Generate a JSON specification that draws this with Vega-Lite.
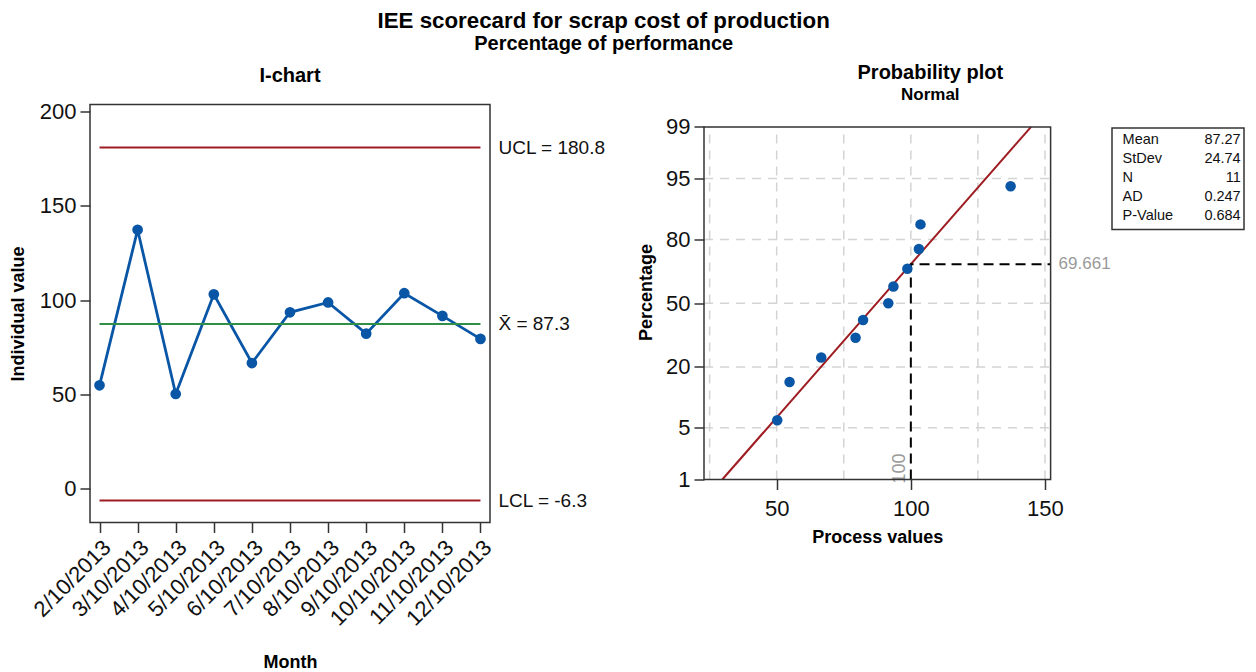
{
  "$schema": "https://vega.github.io/schema/vega-lite/v6.json",
  "padding": {"left": 8, "top": 9.5, "right": 4, "bottom": 0},
  "background": "white",
  "title": {
    "text": "IEE scorecard for scrap cost of production",
    "subtitle": "Percentage of performance",
    "anchor": "middle",
    "frame": "bounds",
    "dx": -23,
    "font": "Liberation Sans",
    "fontSize": 22.3,
    "fontWeight": "bold",
    "color": "black",
    "subtitleFont": "Liberation Sans",
    "subtitleFontSize": 20,
    "subtitleFontWeight": "bold",
    "subtitleColor": "black",
    "subtitlePadding": 2,
    "offset": 8.3
  },
  "config": {
    "font": "Liberation Sans",
    "view": {"stroke": "#333333", "strokeWidth": 1.5},
    "axis": {
      "labelFont": "Liberation Sans",
      "labelFontSize": 22,
      "labelColor": "#111111",
      "titleFont": "Liberation Sans",
      "titleFontSize": 18,
      "titleFontWeight": "bold",
      "titleColor": "black",
      "tickColor": "#333333",
      "tickSize": 10,
      "tickWidth": 1.5,
      "domain": false,
      "grid": false,
      "labelPadding": 4
    },
    "title": {
      "font": "Liberation Sans",
      "fontSize": 20,
      "fontWeight": "bold",
      "color": "black",
      "anchor": "middle",
      "subtitleFont": "Liberation Sans",
      "subtitleFontSize": 17,
      "subtitleFontWeight": "bold",
      "subtitleColor": "black"
    }
  },
  "datasets": {
    "ichart": [
      {"month": "2/10/2013", "value": 54.8},
      {"month": "3/10/2013", "value": 137.2},
      {"month": "4/10/2013", "value": 50.2},
      {"month": "5/10/2013", "value": 103.0},
      {"month": "6/10/2013", "value": 66.6},
      {"month": "7/10/2013", "value": 93.5},
      {"month": "8/10/2013", "value": 98.7},
      {"month": "9/10/2013", "value": 82.2},
      {"month": "10/10/2013", "value": 103.6},
      {"month": "11/10/2013", "value": 91.6},
      {"month": "12/10/2013", "value": 79.4}
    ],
    "limits": [
      {"limit": "UCL", "value": 180.8, "month": "2/10/2013", "monthEnd": "12/10/2013", "label": "UCL = 180.8"},
      {"limit": "Mean", "value": 87.3, "month": "2/10/2013", "monthEnd": "12/10/2013", "label": "X̄ = 87.3"},
      {"limit": "LCL", "value": -6.3, "month": "2/10/2013", "monthEnd": "12/10/2013", "label": "LCL = -6.3"}
    ],
    "prob": [
      {"value": 50.2, "pct": 6.14, "score": -1.544},
      {"value": 54.8, "pct": 14.91, "score": -1.04},
      {"value": 66.6, "pct": 23.68, "score": -0.716},
      {"value": 79.4, "pct": 32.46, "score": -0.455},
      {"value": 82.2, "pct": 41.23, "score": -0.221},
      {"value": 91.6, "pct": 50.0, "score": 0},
      {"value": 93.5, "pct": 58.77, "score": 0.221},
      {"value": 98.7, "pct": 67.54, "score": 0.455},
      {"value": 103.0, "pct": 76.32, "score": 0.716},
      {"value": 103.6, "pct": 85.09, "score": 1.04},
      {"value": 137.2, "pct": 93.86, "score": 1.544}
    ],
    "fit": [
      {"value": 29.72, "pct": 1, "score": -2.3263},
      {"value": 144.82, "pct": 99, "score": 2.3263}
    ],
    "ref": [
      {"step": 1, "value": 100, "score": -2.3263},
      {"step": 2, "value": 100, "score": 0.5145},
      {"step": 3, "value": 152.1, "score": 0.5145}
    ],
    "reflabelX": [
      {"value": 100, "score": -2.3263, "text": "100"}
    ],
    "reflabelY": [
      {"value": 152.1, "score": 0.5145, "text": "69.661"}
    ],
    "gridX": [
      {"value": 25, "score": -2.3263, "score2": 2.3263},
      {"value": 50, "score": -2.3263, "score2": 2.3263},
      {"value": 75, "score": -2.3263, "score2": 2.3263},
      {"value": 100, "score": -2.3263, "score2": 2.3263},
      {"value": 125, "score": -2.3263, "score2": 2.3263},
      {"value": 150, "score": -2.3263, "score2": 2.3263}
    ],
    "gridY": [
      {"score": -1.6449, "value": 22.9, "value2": 152.1},
      {"score": -0.8416, "value": 22.9, "value2": 152.1},
      {"score": 0, "value": 22.9, "value2": 152.1},
      {"score": 0.8416, "value": 22.9, "value2": 152.1},
      {"score": 1.6449, "value": 22.9, "value2": 152.1}
    ],
    "frame": [
      {"value": 22.9, "value2": 152.1, "score": -2.3263, "score2": 2.3263}
    ],
    "stats": [
      {"row": 1, "stat": "Mean", "display": "87.27"},
      {"row": 2, "stat": "StDev", "display": "24.74"},
      {"row": 3, "stat": "N", "display": "11"},
      {"row": 4, "stat": "AD", "display": "0.247"},
      {"row": 5, "stat": "P-Value", "display": "0.684"}
    ],
    "statsBox": [
      {"col": 0, "col2": 1, "row": 0.385, "row2": 5.737}
    ]
  },
  "spacing": 30,
  "hconcat": [
    {
      "title": {"text": "I-chart", "offset": 14.6},
      "width": 400,
      "height": 418,
      "layer": [
        {
          "data": {"name": "ichart"},
          "mark": {"type": "line", "color": "#0a56a6", "strokeWidth": 2.8},
          "encoding": {
            "x": {"field": "month", "type": "ordinal", "sort": null,
              "scale": {"type": "point", "padding": 0.25, "domain": ["2/10/2013", "3/10/2013", "4/10/2013", "5/10/2013", "6/10/2013", "7/10/2013", "8/10/2013", "9/10/2013", "10/10/2013", "11/10/2013", "12/10/2013"]},
              "axis": {"title": "Month", "labelAngle": -45, "titlePadding": 24}},
            "y": {"field": "value", "type": "quantitative", "scale": {"domain": [-17.9, 203.6], "nice": false, "zero": false},
              "axis": {"values": [0, 50, 100, 150, 200], "title": "Individual value", "titlePadding": 12}}
          }
        },
        {
          "data": {"name": "limits"},
          "mark": {"type": "rule", "strokeWidth": 2},
          "encoding": {
            "x": {"field": "month", "type": "ordinal"},
            "x2": {"field": "monthEnd"},
            "y": {"field": "value", "type": "quantitative"},
            "color": {"field": "limit", "type": "nominal", "scale": {"domain": ["UCL", "Mean", "LCL"], "range": ["#9e1c22", "#2f8f46", "#9e1c22"]}, "legend": null}
          }
        },
        {
          "data": {"name": "limits"},
          "mark": {"type": "text", "align": "left", "baseline": "middle", "dx": 18, "fontSize": 19, "color": "#111111"},
          "encoding": {
            "x": {"field": "monthEnd", "type": "ordinal"},
            "y": {"field": "value", "type": "quantitative"},
            "text": {"field": "label"}
          }
        },
        {
          "data": {"name": "ichart"},
          "mark": {"type": "circle", "size": 115, "color": "#0a56a6", "opacity": 1},
          "encoding": {
            "x": {"field": "month", "type": "ordinal"},
            "y": {"field": "value", "type": "quantitative"}
          }
        }
      ]
    },
    {
      "spacing": 0,
      "hconcat": [
        {
          "title": {"text": "Probability plot", "subtitle": "Normal", "subtitlePadding": 4, "offset": 2, "dx": 53},
          "width": 346.6,
          "height": 375,
          "view": {"stroke": null},
          "encoding": {
            "x": {"field": "value", "type": "quantitative", "scale": {"domain": [22.9, 152.1], "nice": false, "zero": false},
              "axis": {"values": [25, 50, 75, 100, 125, 150],
                "labelExpr": "datum.value % 50 === 0 ? datum.label : ''",
                "tickColor": {"condition": {"test": "datum.value % 50 === 0", "value": "#333333"}, "value": "transparent"},
                "labelPadding": 9,
                "title": "Process values", "titlePadding": 9}},
            "y": {"field": "score", "type": "quantitative", "scale": {"domain": [-2.3263, 2.6218], "nice": false, "zero": false},
              "axis": {"values": [-2.3263, -1.6449, -0.8416, 0, 0.8416, 1.6449, 2.3263],
                "labelExpr": "format(cumulativeNormal(datum.value) * 100, '.0f')",
                "title": "Percentage", "titlePadding": 10}}
          },
          "layer": [
            {
              "data": {"name": "gridX"},
              "mark": {"type": "rule", "color": "#d4d4d4", "strokeWidth": 1.5, "strokeDash": [9, 7]},
              "encoding": {
                "y2": {"field": "score2"}
              }
            },
            {
              "data": {"name": "gridY"},
              "mark": {"type": "rule", "color": "#d4d4d4", "strokeWidth": 1.5, "strokeDash": [9, 7]},
              "encoding": {
                "x2": {"field": "value2"}
              }
            },
            {
              "data": {"name": "fit"},
              "mark": {"type": "line", "color": "#9e1c22", "strokeWidth": 2}
            },
            {
              "data": {"name": "ref"},
              "mark": {"type": "line", "color": "black", "strokeWidth": 2, "strokeDash": [10, 6]},
              "encoding": {"order": {"field": "step", "type": "quantitative"}}
            },
            {
              "data": {"name": "prob"},
              "mark": {"type": "circle", "size": 110, "color": "#0a56a6", "opacity": 1}
            },
            {
              "data": {"name": "reflabelX"},
              "mark": {"type": "text", "angle": 270, "align": "left", "baseline": "bottom", "dx": -4, "dy": -2, "fontSize": 18, "color": "#9a9a9a"},
              "encoding": {"text": {"field": "text"}}
            },
            {
              "data": {"name": "reflabelY"},
              "mark": {"type": "text", "align": "left", "baseline": "middle", "dx": 8, "fontSize": 17, "color": "#9a9a9a"},
              "encoding": {"text": {"field": "text"}}
            },
            {
              "data": {"name": "frame"},
              "mark": {"type": "rect", "fillOpacity": 0, "stroke": "#333333", "strokeWidth": 1.5},
              "encoding": {
                "x2": {"field": "value2"},
                "y2": {"field": "score2"}
              }
            }
          ]
        },
        {
          "width": 132,
          "height": 125.1,
          "view": {"stroke": null},
          "layer": [
            {
              "data": {"name": "stats"},
              "mark": {"type": "text", "align": "left", "baseline": "middle", "fontSize": 14.5, "color": "#111111"},
              "encoding": {
                "x": {"datum": 0.08, "type": "quantitative", "scale": {"domain": [0, 1]}, "axis": null},
                "y": {"field": "row", "type": "quantitative", "scale": {"domain": [-0.847, 5.737], "reverse": true, "nice": false, "zero": false}, "axis": null},
                "text": {"field": "stat"}
              }
            },
            {
              "data": {"name": "stats"},
              "mark": {"type": "text", "align": "right", "baseline": "middle", "fontSize": 14.5, "color": "#111111"},
              "encoding": {
                "x": {"datum": 0.975, "type": "quantitative"},
                "y": {"field": "row", "type": "quantitative"},
                "text": {"field": "display"}
              }
            },
            {
              "data": {"name": "statsBox"},
              "mark": {"type": "rect", "fillOpacity": 0, "stroke": "#333333", "strokeWidth": 1.5},
              "encoding": {
                "x": {"field": "col", "type": "quantitative"},
                "x2": {"field": "col2"},
                "y": {"field": "row", "type": "quantitative"},
                "y2": {"field": "row2"}
              }
            }
          ]
        }
      ]
    }
  ]
}
